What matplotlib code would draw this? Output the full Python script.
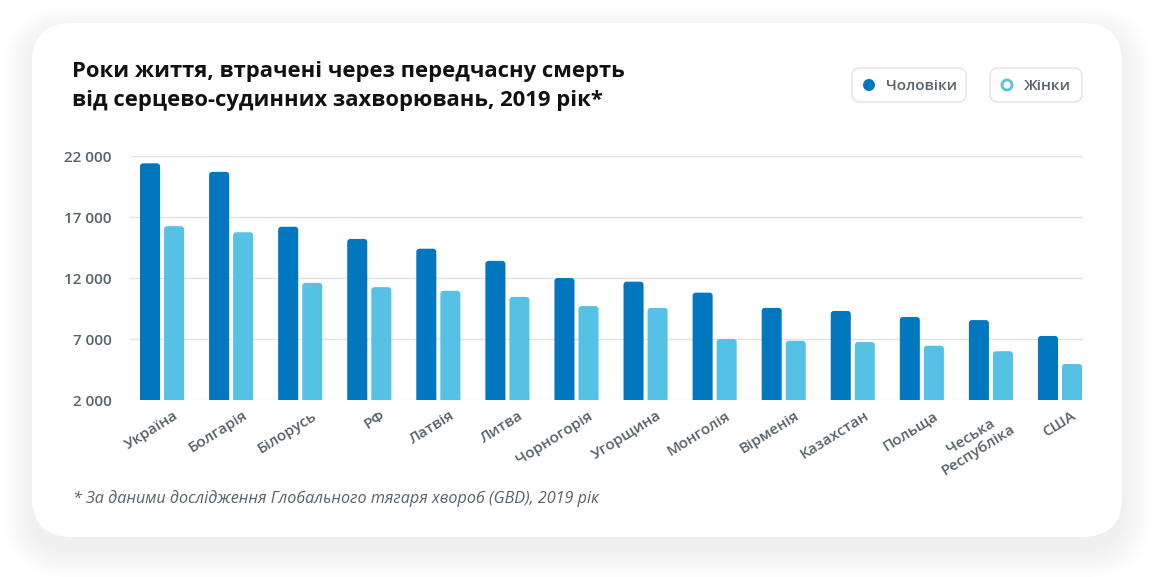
import matplotlib.pyplot as plt
import numpy as np
from matplotlib.patches import FancyBboxPatch, Circle
from matplotlib.transforms import ScaledTranslation

# дані
countries = ['Україна', 'Болгарія', 'Білорусь', 'РФ', 'Латвія', 'Литва', 'Чорногорія',
             'Угорщина', 'Монголія', 'Вірменія', 'Казахстан', 'Польща',
             'Чеська\nРеспубліка', 'США']
men = [21400, 20700, 16200, 15200, 14400, 13400, 12000, 11700, 10800, 9550, 9300, 8800, 8550, 7250]
women = [16250, 15750, 11600, 11250, 10950, 10450, 9700, 9550, 7000, 6850, 6750, 6450, 6000, 4950]
yticks = [2000, 7000, 12000, 17000, 22000]
ytick_labels = ['2 000', '7 000', '12 000', '17 000', '22 000']
legend_labels = ['Чоловіки', 'Жінки']

c_men = '#0077bf'
c_women = '#55c2e5'
c_text = '#56616a'

plt.rcParams['font.family'] = ['Open Sans', 'DejaVu Sans']

fig = plt.figure(figsize=(11.54, 5.77), dpi=100)
fig.patch.set_facecolor('white')

# фон: картка з тінню
bg = fig.add_axes([0, 0, 1, 1])
bg.set_xlim(0, 1154)
bg.set_ylim(577, 0)
bg.axis('off')
for grow in range(30, 0, -2):
    bg.add_patch(FancyBboxPatch((32 - grow, 23 - grow + 12), 1090 + 2 * grow, 514 + 2 * grow,
                                boxstyle=f"round,pad=0,rounding_size={40 + grow}",
                                fc='#000000', ec='none', alpha=0.0035))
bg.add_patch(FancyBboxPatch((32, 23), 1090, 514, boxstyle="round,pad=0,rounding_size=40",
                            fc='white', ec='none'))

# заголовок
bg.text(72, 77, 'Роки життя, втрачені через передчасну смерть', fontsize=15.8,
        fontweight='bold', color='#111111', va='baseline')
bg.text(72, 106, 'від серцево-судинних захворювань, 2019 рік*', fontsize=15.8,
        fontweight='bold', color='#111111', va='baseline')

# легенда
bg.add_patch(FancyBboxPatch((852, 68), 114, 34, boxstyle="round,pad=0,rounding_size=8",
                            fc='white', ec='#e2e2e2', lw=1))
bg.add_patch(Circle((869, 85), 6, fc=c_men, ec='none'))
bg.text(886, 86, legend_labels[0], fontsize=11, color=c_text, va='center', fontweight='semibold')
bg.add_patch(FancyBboxPatch((990, 68), 92, 34, boxstyle="round,pad=0,rounding_size=8",
                            fc='white', ec='#e2e2e2', lw=1))
bg.add_patch(Circle((1007, 85), 5, fc='white', ec=c_women, lw=2))
bg.text(1024, 86, legend_labels[1], fontsize=11, color=c_text, va='center', fontweight='semibold')

# примітка
bg.text(73, 503, '* За даними дослідження Глобального тягаря хвороб (GBD), 2019 рік',
        fontsize=11.6, style='italic', color=c_text, va='baseline')

# основний графік
ax = fig.add_axes([130 / 1154, 1 - 400 / 577, 953 / 1154, 244 / 577])
ax.patch.set_alpha(0)
x = np.arange(len(countries))
w = 0.29
off = 0.174
bars_m = ax.bar(x - off, men, width=w, color=c_men)
bars_w = ax.bar(x + off, women, width=w, color=c_women)

# закруглені верхівки
for bars, col in [(bars_m, c_men), (bars_w, c_women)]:
    for b in bars:
        ax.add_patch(FancyBboxPatch((b.get_x(), 0), b.get_width(), b.get_height(),
                                    boxstyle="round,pad=0,rounding_size=0.045",
                                    mutation_aspect=5656, fc=col, ec='none', zorder=3))
        b.remove()

ax.set_xlim(-0.464, 13.333)
ax.set_ylim(2000, 22000)
ax.set_yticks(yticks)
ax.set_yticklabels(ytick_labels, fontsize=11, color=c_text, fontweight='semibold')
ax.yaxis.grid(True, color='#e3e3e3', lw=1)
ax.set_axisbelow(True)
for s in ax.spines.values():
    s.set_visible(False)
ax.tick_params(axis='both', length=0)
ax.tick_params(axis='y', pad=13)
ax.set_xticks(x)
ax.set_xticklabels(countries, rotation=32, ha='right', va='top', rotation_mode='anchor',
                   fontsize=11, color=c_text, multialignment='center', fontweight='semibold')
ax.tick_params(axis='x', pad=6)
for lab in ax.get_xticklabels():
    lab.set_transform(lab.get_transform() + ScaledTranslation(8 / 72, 0, fig.dpi_scale_trans))

fig.savefig('out.png', dpi=100)
